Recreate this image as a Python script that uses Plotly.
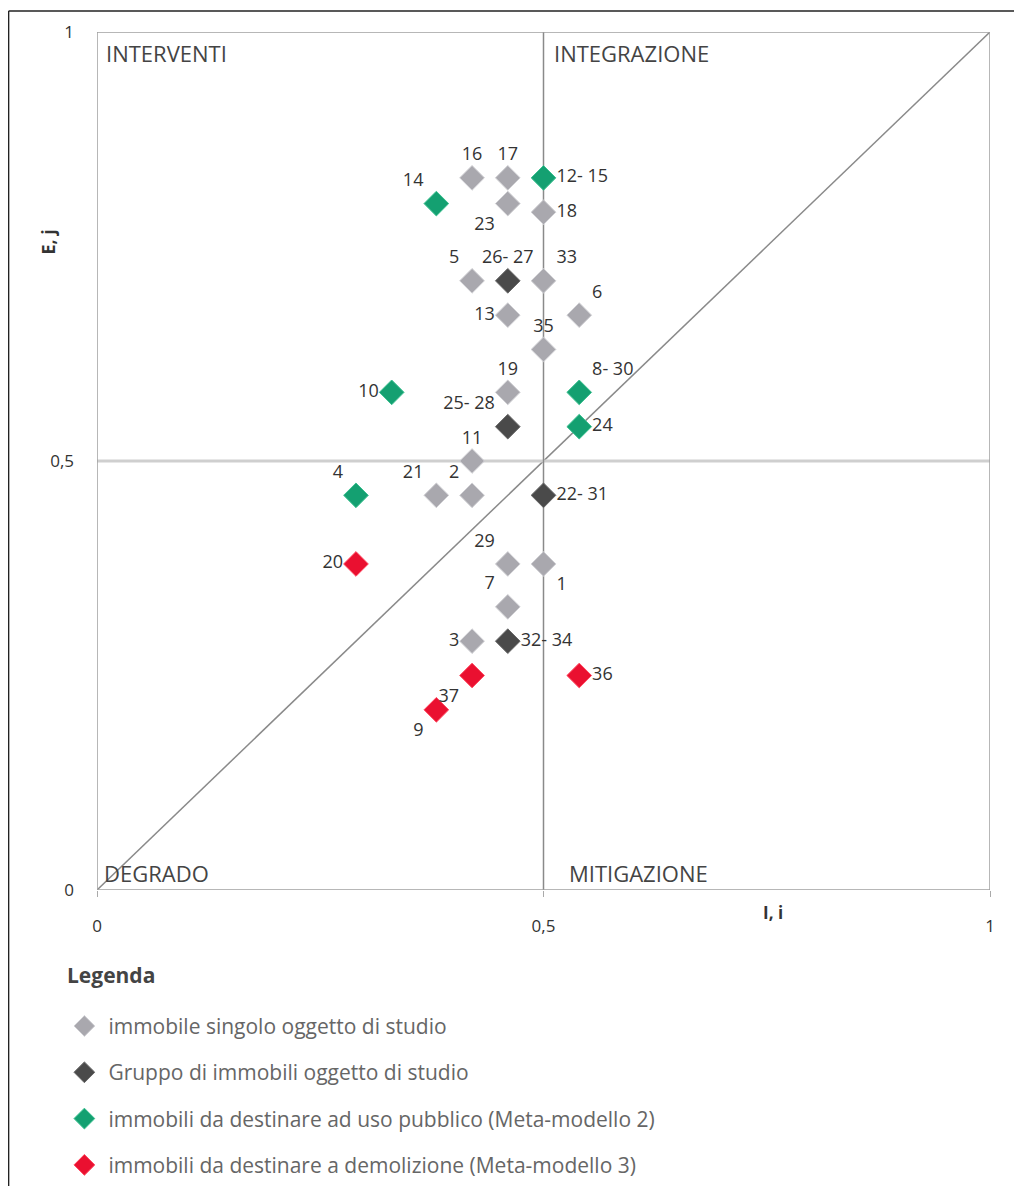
import plotly.graph_objects as go

# ---- data ----
single_labels = ["16", "17", "23", "18", "5", "33", "13", "6", "35", "19", "11", "21", "2", "29", "1", "7", "3"]
single_x = [0.42, 0.46, 0.46, 0.50, 0.42, 0.50, 0.46, 0.54, 0.50, 0.46, 0.42, 0.38, 0.42, 0.46, 0.50, 0.46, 0.42]
single_y = [0.83, 0.83, 0.80, 0.79, 0.71, 0.71, 0.67, 0.67, 0.63, 0.58, 0.50, 0.46, 0.46, 0.38, 0.38, 0.33, 0.29]
single_pos = ["top center", "top center", "bottom left", "middle right", "top left", "top right",
              "middle left", "top right", "top center", "top center", "top center", "top left",
              "top left", "top left", "bottom right", "top left", "middle left"]

group_labels = ["26- 27", "25- 28", "22- 31", "32- 34"]
group_x = [0.46, 0.46, 0.50, 0.46]
group_y = [0.71, 0.54, 0.46, 0.29]
group_pos = ["top center", "top left", "middle right", "middle right"]

green_labels = ["12- 15", "14", "10", "8- 30", "24", "4"]
green_x = [0.50, 0.38, 0.33, 0.54, 0.54, 0.29]
green_y = [0.83, 0.80, 0.58, 0.58, 0.54, 0.46]
green_pos = ["middle right", "top left", "middle left", "top right", "middle right", "top left"]

red_labels = ["20", "37", "36", "9"]
red_x = [0.29, 0.42, 0.54, 0.38]
red_y = [0.38, 0.25, 0.25, 0.21]
red_pos = ["middle left", "bottom left", "middle right", "bottom left"]

legend_names = [
    "immobile singolo oggetto di studio",
    "Gruppo di immobili oggetto di studio",
    "immobili da destinare ad uso pubblico (Meta-modello 2)",
    "immobili da destinare a demolizione (Meta-modello 3)",
]

quadrants = ["INTERVENTI", "INTEGRAZIONE", "DEGRADO", "MITIGAZIONE"]
tick_vals = [0, 0.5, 1]
tick_text = ["0", "0,5", "1"]

FONT = "'Open Sans', Lato, sans-serif"

fig = go.Figure()

series = [
    (single_labels, single_x, single_y, single_pos, "#a9a8ae", "#d0d0d4", legend_names[0]),
    (group_labels, group_x, group_y, group_pos, "#4a4a4a", "#6a6a6a", legend_names[1]),
    (green_labels, green_x, green_y, green_pos, "#14a071", "#3cc090", legend_names[2]),
    (red_labels, red_x, red_y, red_pos, "#ea1030", "#ff4a60", legend_names[3]),
]

for i, (lab, xs, ys, pos, col, lc, name) in enumerate(series):
    fig.add_trace(go.Scatter(
        x=xs, y=ys, mode="markers+text", text=lab, textposition=pos,
        textfont=dict(family=FONT, size=18, color="#333333"),
        marker=dict(symbol="diamond", size=19, color=col, line=dict(color=lc, width=1)),
        name=name, legendgroup=f"g{i}", cliponaxis=False,
    ))

shapes = [
    # diagonal
    dict(type="line", xref="x", yref="y", x0=0, y0=0, x1=1, y1=1,
         line=dict(color="#8a8a8a", width=1.5), layer="below"),
    # midlines
    dict(type="line", xref="x", yref="y", x0=0, y0=0.5, x1=1, y1=0.5,
         line=dict(color="#cfcfcf", width=3), layer="below"),
    dict(type="line", xref="x", yref="y", x0=0.5, y0=0, x1=0.5, y1=1,
         line=dict(color="#8a8a8a", width=1.5), layer="below"),
    # plot frame
    dict(type="rect", xref="x", yref="y", x0=0, y0=0, x1=1, y1=1,
         line=dict(color="#a0a0a0", width=1.5), layer="below"),
    # outer border (top and left edges only)
    dict(type="line", xref="paper", yref="paper", x0=-0.0990, y0=1.0245, x1=1.05, y1=1.0245,
         line=dict(color="#222222", width=1.5), layer="below"),
    dict(type="line", xref="paper", yref="paper", x0=-0.0990, y0=1.0245, x1=-0.0990, y1=-0.37,
         line=dict(color="#222222", width=1.5), layer="below"),
]

annotations = [
    dict(x=0.008, y=0.975, text=quadrants[0], xanchor="left", yanchor="middle"),
    dict(x=0.51, y=0.975, text=quadrants[1], xanchor="left", yanchor="middle"),
    dict(x=0.006, y=0.02, text=quadrants[2], xanchor="left", yanchor="middle"),
    dict(x=0.526, y=0.02, text=quadrants[3], xanchor="left", yanchor="middle"),
]
for a in annotations:
    a.update(xref="x", yref="y", showarrow=False, font=dict(family=FONT, size=22, color="#444444"))

annotations += [
    dict(x=-0.07, y=0.772, xref="paper", yref="paper", text="<b>E, j</b>", textangle=-90,
         showarrow=False, font=dict(family=FONT, size=18, color="#333333")),
    dict(x=0.770, y=-0.042, xref="paper", yref="paper", text="<b>I, i</b>",
         showarrow=False, font=dict(family=FONT, size=17, color="#333333")),
    dict(x=-0.036, y=-0.099, xref="paper", yref="paper", text="<b>Legenda</b>",
         xanchor="left", yanchor="middle", showarrow=False,
         font=dict(family=FONT, size=21, color="#444444")),
]

fig.update_layout(
    width=1022, height=1210,
    margin=dict(l=89, r=40, t=24, b=328),
    paper_bgcolor="white", plot_bgcolor="white",
    showlegend=True,
    legend=dict(
        x=-0.041, y=-0.135, xanchor="left", yanchor="top",
        font=dict(family=FONT, size=21, color="#666666"),
        tracegroupgap=16, itemsizing="trace", itemwidth=38, bgcolor="rgba(0,0,0,0)",
    ),
    xaxis=dict(range=[0, 1], tickvals=tick_vals, ticktext=tick_text, showgrid=False,
               zeroline=False, showline=False, ticks="outside", ticklen=6, tickcolor="#aaaaaa",
               ticklabelstandoff=15, tickfont=dict(family=FONT, size=17, color="#333333")),
    yaxis=dict(range=[0, 1], tickvals=tick_vals, ticktext=tick_text, showgrid=False,
               zeroline=False, showline=False, ticks="", ticklabelstandoff=22,
               tickfont=dict(family=FONT, size=17, color="#333333")),
    shapes=shapes, annotations=annotations,
)

fig.write_html("out.html")
